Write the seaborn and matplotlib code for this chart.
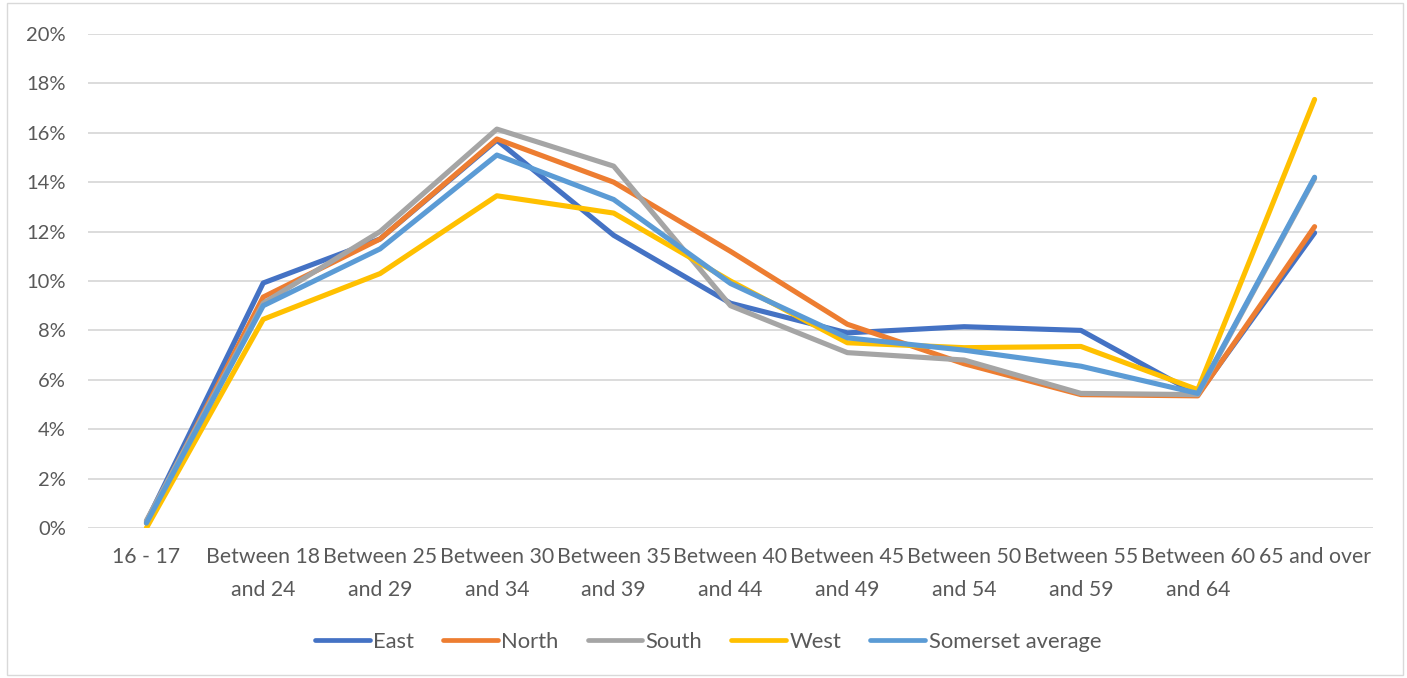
import matplotlib
matplotlib.use("Agg")
import matplotlib.pyplot as plt
import seaborn as sns
import pandas as pd
from matplotlib.ticker import FuncFormatter
from matplotlib.patches import Rectangle

categories = ["16 - 17", "Between 18\nand 24", "Between 25\nand 29", "Between 30\nand 34",
              "Between 35\nand 39", "Between 40\nand 44", "Between 45\nand 49",
              "Between 50\nand 54", "Between 55\nand 59", "Between 60\nand 64",
              "65 and over"]
east = [0.25, 9.92, 11.7, 15.7, 11.85, 9.1, 7.9, 8.15, 8.0, 5.4, 11.95]
north = [0.2, 9.35, 11.7, 15.75, 14.0, 11.2, 8.25, 6.65, 5.4, 5.35, 12.2]
south = [0.3, 9.1, 12.0, 16.15, 14.65, 9.0, 7.1, 6.8, 5.45, 5.4, 14.15]
west = [0.0, 8.45, 10.3, 13.45, 12.75, 10.0, 7.5, 7.3, 7.35, 5.6, 17.35]
somerset = [0.2, 9.0, 11.3, 15.1, 13.3, 9.9, 7.7, 7.2, 6.55, 5.45, 14.2]

series_names = ["East", "North", "South", "West", "Somerset average"]
series_values = [east, north, south, west, somerset]
colors = ["#4472C4", "#ED7D31", "#A5A5A5", "#FFC000", "#5B9BD5"]

rows = []
for name, vals in zip(series_names, series_values):
    for i, v in enumerate(vals):
        rows.append({"idx": i, "value": v, "series": name})
df = pd.DataFrame(rows)

sns.set_theme(style="white")
plt.rcParams["font.family"] = ["Lato", "DejaVu Sans"]

fig = plt.figure(figsize=(14.07, 6.78), dpi=100)
ax = fig.add_axes([88/1407, 1-528/678, (1373-88)/1407, (528-34)/678])

sns.lineplot(data=df, x="idx", y="value", hue="series", hue_order=series_names,
             palette=colors, linewidth=3.7, ax=ax, legend=False,
             solid_capstyle="round", solid_joinstyle="round")

ax.set_xlim(-0.5, len(categories) - 0.5)
ax.set_ylim(0, 20)
ax.set_yticks(range(0, 21, 2))
ax.yaxis.set_major_formatter(FuncFormatter(lambda v, p: f"{int(v)}%"))
ax.set_xticks(range(len(categories)))
ax.set_xticklabels(categories, fontsize=15.3, color="#595959", linespacing=1.8)
ax.tick_params(axis="y", labelsize=14.5, labelcolor="#595959", length=0, pad=16)
ax.tick_params(axis="x", length=0, pad=14)
ax.grid(axis="y", color="#D9D9D9", linewidth=1.3)
ax.set_axisbelow(True)
for s in ax.spines.values():
    s.set_visible(False)
ax.set_xlabel("")
ax.set_ylabel("")

handles = [plt.Line2D([0], [0], color=c, linewidth=3.4, solid_capstyle="round") for c in colors]
fig.legend(handles, series_names, loc="center", bbox_to_anchor=(708/1407, 1-642/678),
           ncol=5, frameon=False, fontsize=15.8, handlelength=2.5, columnspacing=1.32,
           handletextpad=0.15, labelcolor="#595959")

fig.patches.append(Rectangle((7/1407, 3/678), 1396/1407, 672/678, transform=fig.transFigure,
                             fill=False, edgecolor="#D9D9D9", linewidth=1))

fig.savefig("out.png", dpi=100)
